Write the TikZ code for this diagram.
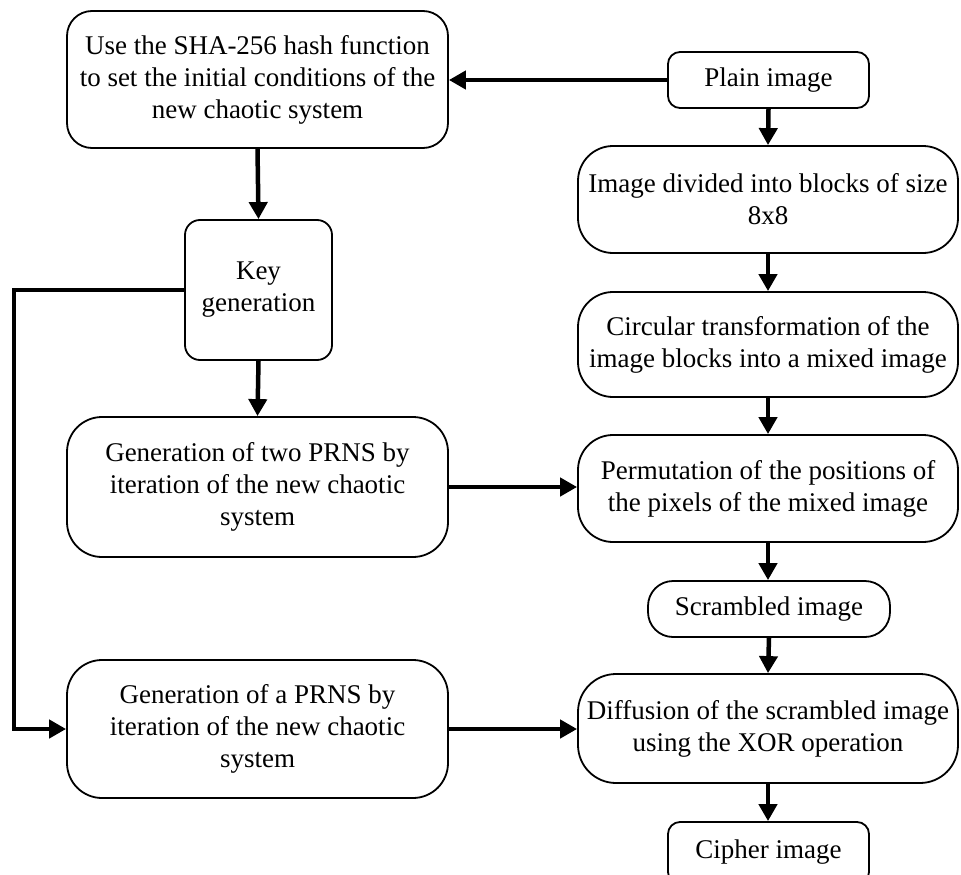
\documentclass[tikz,border=0pt]{standalone}
\usepackage{fontspec}
\setmainfont{Liberation Serif}
\usetikzlibrary{arrows.meta}
\tikzset{
  box/.style={draw, line width=1.8pt, rounded corners=#1, align=center, inner sep=0pt,
    font=\fontsize{27pt}{32pt}\selectfont},
  box/.default=30pt,
  conn/.style={line width=4.5pt, -{Triangle[length=17pt,width=18pt]}}
}
\begin{document}
\begin{tikzpicture}[x=1pt,y=-1pt]
\useasboundingbox (0,0) rectangle (961,875);
\node[box=25pt, minimum width=381pt, minimum height=137pt] (sha) at (257.5,79.5)
  {Use the SHA-256 hash function\\to set the initial conditions of the\\new chaotic system};
\node[box=12pt, minimum width=201pt, minimum height=56pt] (plain) at (768.5,80) {Plain image};
\node[box=35pt, minimum width=380pt, minimum height=107pt] (div) at (768,199.5)
  {Image divided into blocks of size\\8x8};
\node[box=15pt, minimum width=147pt, minimum height=140pt] (key) at (258.5,290) {Key\\generation};
\node[box=35pt, minimum width=380pt, minimum height=105pt] (circ) at (768,344.5)
  {Circular transformation of the\\image blocks into a mixed image};
\node[box=35pt, minimum width=381pt, minimum height=140pt] (gentwo) at (257.5,487)
  {Generation of two PRNS by\\iteration of the new chaotic\\system};
\node[box=35pt, minimum width=380pt, minimum height=107pt] (perm) at (768,488.5)
  {Permutation of the positions of\\the pixels of the mixed image};
\node[box=25pt, minimum width=242pt, minimum height=56pt] (scr) at (769,609) {Scrambled image};
\node[box=35pt, minimum width=381pt, minimum height=138pt] (genone) at (257.5,729)
  {Generation of a PRNS by\\iteration of the new chaotic\\system};
\node[box=38pt, minimum width=380pt, minimum height=109pt] (diff) at (768,728.5)
  {Diffusion of the scrambled image\\using the XOR operation};
\node[box=12pt, minimum width=201pt, minimum height=62pt, text depth=0pt] (ciph) at (768.5,853) {\raisebox{8pt}{Cipher image}};
\coordinate (lt) at (14,290);
\coordinate (lb) at (14,729);
% connectors
\draw[conn] (plain.west) -- (plain.west -| sha.east);
\draw[conn] (sha.south) -- (key.north);
\draw[conn] (key.south) -- (gentwo.north);
\draw[conn] (key.west) -- (lt) -- (lb) -- (genone.west);
\draw[conn] (gentwo.east) -- (gentwo.east -| perm.west);
\draw[conn] (genone.east) -- (genone.east -| diff.west);
\draw[conn] (plain.south) -- (div.north);
\draw[conn] (div.south) -- (circ.north);
\draw[conn] (circ.south) -- (perm.north);
\draw[conn] (perm.south) -- (perm.south |- scr.north);
\draw[conn] (scr.south) -- (diff.north);
\draw[conn] (diff.south) -- (diff.south |- ciph.north);
\end{tikzpicture}
\end{document}
